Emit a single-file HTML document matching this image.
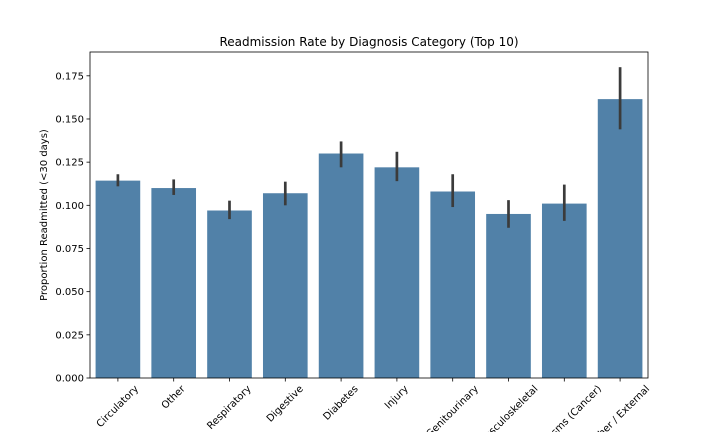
<!DOCTYPE html>
<html><head><meta charset="utf-8"><style>
html,body{margin:0;padding:0;background:#fff;width:720px;height:432px;overflow:hidden}
svg{font-family:"DejaVu Sans","Liberation Sans",sans-serif;overflow:hidden;display:block}
</style></head><body>
<svg id="chart" width="720" height="432"></svg>
<script>
const categories=["Circulatory","Other","Respiratory","Digestive","Diabetes","Injury","Genitourinary","Musculoskeletal","Neoplasms (Cancer)","Other / External"];
const rates=[0.1143,0.110,0.097,0.107,0.130,0.122,0.108,0.095,0.101,0.1615];
const ciLow=[0.111,0.106,0.092,0.100,0.122,0.114,0.099,0.087,0.091,0.144];
const ciHigh=[0.118,0.115,0.1027,0.1137,0.137,0.131,0.118,0.103,0.112,0.180];
const yTicks=[0,0.025,0.05,0.075,0.1,0.125,0.15,0.175];
const yTickLabels=["0.000","0.025","0.050","0.075","0.100","0.125","0.150","0.175"];
const NS="http://www.w3.org/2000/svg";
const svg=document.getElementById('chart');
const L=90,R=648,T=52,B=378;
const yMax=0.18879;
function y(v){return B-(v/yMax)*(B-T);}
const slot=(R-L)/categories.length;
function xc(i){return L+slot*(i+0.5);}
function mk(tag,attrs,parent){const e=document.createElementNS(NS,tag);for(const k in attrs)e.setAttribute(k,attrs[k]);(parent||svg).appendChild(e);return e;}
categories.forEach((c,i)=>{
  const r=mk('rect',{x:xc(i)-slot*0.4,y:y(rates[i]),width:slot*0.8,height:B-y(rates[i]),fill:'#5181a8'});
  
  
  const e=mk('line',{x1:xc(i),x2:xc(i),y1:y(ciLow[i]),y2:y(ciHigh[i]),stroke:'#3b3b3b','stroke-width':2.7});
  
  
  mk('line',{x1:xc(i),x2:xc(i),y1:B,y2:B+3.5,stroke:'#000','stroke-width':0.8});
  const t=mk('text',{x:0,y:0,'font-size':10,'text-anchor':'middle','dominant-baseline':'central',fill:'#000'});
  t.textContent=c;
  
  
  const len=t.getComputedTextLength();
  const h=(len+10)*0.7071;
  t.setAttribute('transform','translate('+xc(i)+','+(B+6+h/2)+') rotate(-45)');
});
yTicks.forEach((v,i)=>{
  mk('line',{x1:L-3.5,x2:L,y1:y(v),y2:y(v),stroke:'#000','stroke-width':0.8});
  const t=mk('text',{x:L-6,y:y(v)+3.5,'font-size':10,'text-anchor':'end',fill:'#000'});
  t.textContent=yTickLabels[i];
  
  
});
const f=mk('rect',{x:L,y:T,width:R-L,height:B-T,fill:'none',stroke:'#000','stroke-width':0.8});


const ti=mk('text',{x:(L+R)/2,y:T-6,'font-size':12,'text-anchor':'middle',fill:'#000'});
ti.textContent='Readmission Rate by Diagnosis Category (Top 10)';


const yl=mk('text',{x:0,y:0,'font-size':10,'text-anchor':'middle',fill:'#000',transform:'translate(47,'+((T+B)/2)+') rotate(-90)'});
yl.textContent='Proportion Readmitted (<30 days)';


</script>
</body></html>
